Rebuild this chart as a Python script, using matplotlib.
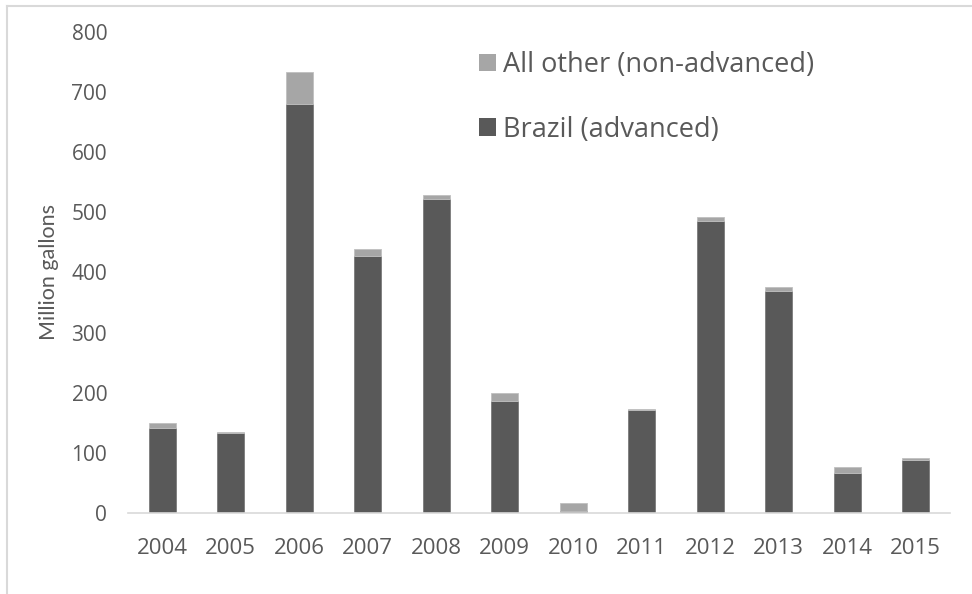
import matplotlib
matplotlib.use("Agg")
import matplotlib.pyplot as plt
from matplotlib.lines import Line2D
from matplotlib.patches import Patch

plt.rcParams["font.family"] = ["Open Sans", "DejaVu Sans"]

years = ["2004", "2005", "2006", "2007", "2008", "2009",
         "2010", "2011", "2012", "2013", "2014", "2015"]
brazil = [142, 133, 681, 427, 523, 187, 3, 171, 485, 370, 67, 88]
other = [8, 2, 52, 12, 6, 12, 13, 2, 8, 6, 9, 3]

DARK = "#595959"
LIGHT = "#a6a6a6"
TXT = "#595959"

W, H = 972, 594
fig = plt.figure(figsize=(W / 100, H / 100), dpi=100)
ax = fig.add_axes([128 / W, 1 - 513 / H, (950 - 128) / W, (513 - 32) / H])

x = range(len(years))
ax.bar(x, brazil, width=0.39, color=DARK, edgecolor="#7a7a7a", linewidth=0.6)
ax.bar(x, other, width=0.39, bottom=brazil, color=LIGHT, edgecolor="#c0c0c0", linewidth=0.6)

ax.set_xlim(-0.5, len(years) - 0.5)
ax.set_ylim(0, 800)
ax.set_yticks(range(0, 801, 100))
ax.set_xticks(list(x))
ax.set_xticklabels(years)
ax.tick_params(axis="both", length=0, colors=TXT)
ax.tick_params(axis="x", pad=18, labelsize=16)
ax.tick_params(axis="y", pad=15, labelsize=15)

for s in ["top", "right", "left"]:
    ax.spines[s].set_visible(False)
ax.spines["bottom"].set_color("#d9d9d9")
ax.spines["bottom"].set_linewidth(1.2)

fig.text(49 / W, 1 - 272 / H, "Million gallons", rotation=90, ha="center",
         va="center", fontsize=15.5, color=TXT, family=["Lato", "DejaVu Sans"])

handles = [Patch(facecolor=LIGHT, edgecolor="none"),
           Patch(facecolor=DARK, edgecolor="none")]
fig.legend(handles, ["All other (non-advanced)", "Brazil (advanced)"],
           loc="upper left", bbox_to_anchor=(479 / W, 1 - 51 / H),
           frameon=False, fontsize=19.5, labelcolor=TXT,
           handlelength=0.63, handleheight=0.63, handletextpad=0.26,
           labelspacing=1.35, borderpad=0, borderaxespad=0)

# outer chart frame (top and left edges visible in the crop)
fig.add_artist(Line2D([7 / W, 1], [1 - 6 / H, 1 - 6 / H], color="#d9d9d9", lw=1.5))
fig.add_artist(Line2D([7 / W, 7 / W], [1 - 6 / H, 0], color="#d9d9d9", lw=1.5))

fig.savefig("out.png", dpi=100, facecolor="white")
